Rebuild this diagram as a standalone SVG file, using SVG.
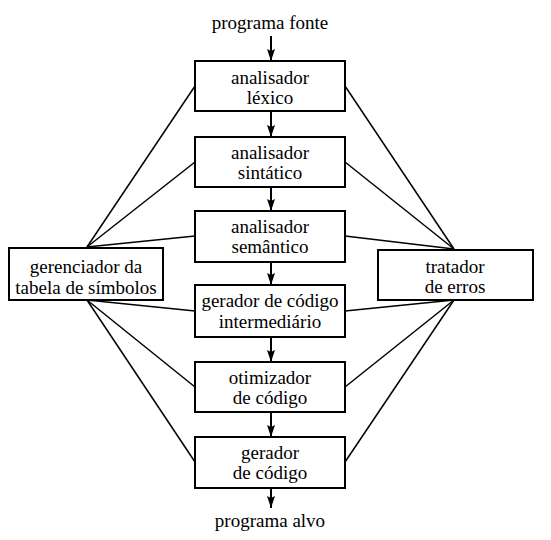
<svg xmlns="http://www.w3.org/2000/svg" width="551" height="540" viewBox="0 0 551 540">
<defs>
<marker id="ah2" markerWidth="12" markerHeight="8" refX="12" refY="4" orient="auto" markerUnits="userSpaceOnUse" viewBox="0 0 12 8">
<path d="M0,0 L12,4 L0,8 L2,4 Z" fill="#000"/>
</marker>
</defs>
<rect width="551" height="540" fill="#fff"/>
<g id="connectors" stroke="#000" stroke-width="1.5" fill="none">
<line x1="87" y1="247" x2="195" y2="86"/>
<line x1="87" y1="247" x2="195" y2="162"/>
<line x1="87" y1="247" x2="195" y2="236"/>
<line x1="87" y1="300" x2="195" y2="311"/>
<line x1="87" y1="300" x2="195" y2="387"/>
<line x1="87" y1="300" x2="195" y2="462"/>
<line x1="454" y1="249" x2="345" y2="86"/>
<line x1="454" y1="249" x2="345" y2="162"/>
<line x1="454" y1="249" x2="345" y2="236"/>
<line x1="454" y1="300" x2="345" y2="311"/>
<line x1="454" y1="300" x2="345" y2="387"/>
<line x1="454" y1="300" x2="345" y2="462"/>
<g stroke-width="2" marker-end="url(#ah2)">
<line x1="271" y1="36" x2="271" y2="61"/>
<line x1="271" y1="111" x2="271" y2="137"/>
<line x1="271" y1="187" x2="271" y2="211"/>
<line x1="271" y1="262" x2="271" y2="285"/>
<line x1="271" y1="337" x2="271" y2="362"/>
<line x1="271" y1="412" x2="271" y2="437"/>
<line x1="271" y1="488" x2="271" y2="508"/>
</g>
</g>
<g style="font-family:'Liberation Serif','Times New Roman',serif;font-size:19px" font-family="Liberation Serif" font-size="19" text-anchor="middle" fill="#000">
<text x="270" y="29">programa fonte</text>
<text x="270" y="527">programa alvo</text>
<g id="lexico"><rect x="195" y="61" width="150" height="50" fill="#fff" stroke="#000" stroke-width="2"/><text x="270" y="84">analisador</text><text x="270" y="104">léxico</text></g>
<g id="sintatico"><rect x="195" y="137" width="150" height="50" fill="#fff" stroke="#000" stroke-width="2"/><text x="270" y="159">analisador</text><text x="270" y="179">sintático</text></g>
<g id="semantico"><rect x="195" y="211" width="150" height="51" fill="#fff" stroke="#000" stroke-width="2"/><text x="270" y="233">analisador</text><text x="270" y="253">semântico</text></g>
<g id="intermediario"><rect x="195" y="285" width="150" height="52" fill="#fff" stroke="#000" stroke-width="2"/><text x="270" y="307">gerador de código</text><text x="270" y="328">intermediário</text></g>
<g id="otimizador"><rect x="195" y="362" width="150" height="50" fill="#fff" stroke="#000" stroke-width="2"/><text x="270" y="384">otimizador</text><text x="270" y="404">de código</text></g>
<g id="gerador"><rect x="195" y="437" width="150" height="51" fill="#fff" stroke="#000" stroke-width="2"/><text x="270" y="459">gerador</text><text x="270" y="479">de código</text></g>
<g id="simbolos"><rect x="9" y="248" width="154" height="52" fill="#fff" stroke="#000" stroke-width="2"/><text x="86" y="273">gerenciador da</text><text x="86" y="294">tabela de símbolos</text></g>
<g id="erros"><rect x="378" y="250" width="155" height="50" fill="#fff" stroke="#000" stroke-width="2"/><text x="455" y="273">tratador</text><text x="455" y="293">de erros</text></g>
</g>
</svg>
